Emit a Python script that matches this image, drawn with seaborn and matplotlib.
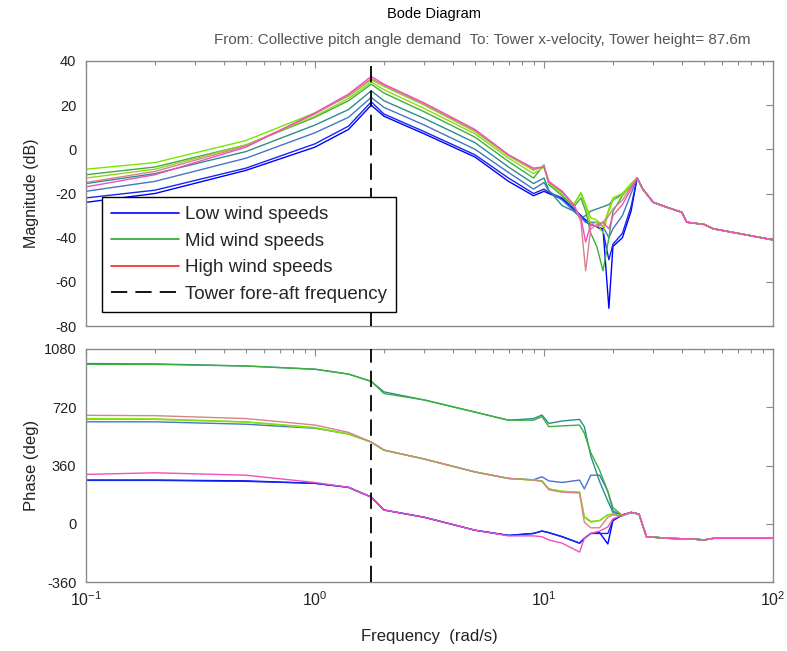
import numpy as np
import pandas as pd
import matplotlib
matplotlib.use("Agg")
import matplotlib.pyplot as plt
from matplotlib.lines import Line2D
from matplotlib.ticker import FixedLocator, FuncFormatter, LogLocator, NullFormatter
import seaborn as sns

# ---------------------------------------------------------------------------
# Frequency response of the linearised turbine at several operating points
# (collective pitch demand -> tower-top fore-aft velocity)
# ---------------------------------------------------------------------------
tower_freq = 1.76  # rad/s, tower first fore-aft mode

series_names = ["low_1", "low_2", "low_3", "mid_1", "mid_2",
                "mid_3", "mid_4", "high_1", "high_2"]

# magnitude (dB) knots, rad/s
mag_freq = [0.1, 0.2, 0.5, 1.0, 1.4, 1.76, 2.0, 3.0, 5.0, 7.0, 9.0, 10.0,
            10.5, 12.0, 13.5, 14.5, 15.2, 16.0, 17.0, 18.1, 19.2, 20.0,
            22.0, 24.0]
mag_low_1 = [-24, -20, -9.5, 1, 9, 20, 15, 7, -3.5, -14.5, -21, -19, -20,
             -22.5, -27, -30, -32, -34, -35, -36, -72, -44, -40, -28]
mag_low_2 = [-22, -18.5, -8.5, 2.5, 10.5, 21.5, 16, 8, -2.5, -13, -20, -18,
             -19.5, -22, -27, -30, -33, -34, -35, -37, -50, -43, -38, -26]
mag_low_3 = [-19, -14.5, -4, 7.5, 14.5, 23.5, 19, 11, 0, -10.5, -18, -15,
             -19, -23, -28, -31, -33, -33, -33, -35, -40, -36, -30, -20]
mag_mid_1 = [-15.5, -11, -1, 11, 18, 26.5, 22, 14, 3, -8, -15.5, -13,
             -18.5, -25.5, -28, -31, -30, -28, -27, -26, -25, -23, -20, -17]
mag_mid_2 = [-11.5, -8, 2, 14.5, 22, 29.5, 25.5, 17, 5.5, -5.5, -13, -7,
             -16, -21, -26, -22, -28, -38, -44, -55, -40, -28, -21, -16]
mag_mid_3 = [-13, -9, 2, 15, 23, 30.5, 27, 18.5, 7, -4, -11, -8, -15.5,
             -20, -25, -20, -26, -34, -33, -38, -28, -23, -21, -16]
mag_mid_4 = [-9, -6, 4, 16.5, 24, 31.5, 28.5, 20, 8, -3, -9.5, -7.5, -15,
             -19.5, -25, -19.5, -25, -31, -32, -35, -27, -22, -20, -15.5]
mag_high_1 = [-15, -10, 1.5, 16, 24.5, 32, 29, 20.5, 8.5, -2.5, -9, -8,
              -15, -19, -25, -33, -55, -36, -34, -33, -30, -27, -23, -17]
mag_high_2 = [-17, -11.5, 1, 16.5, 25, 33, 29.5, 21, 9, -2.5, -8.5, -8,
              -14.5, -19, -25.5, -31, -42, -34, -35, -33, -36, -30, -25, -18]
# high-frequency roll-off shared by all operating points
mag_tail_freq = [25.5, 27.0, 30.0, 35.0, 40.0, 42.0, 50.0, 55.0, 70.0, 100.0]
mag_tail = [-13, -18, -24, -26.5, -28.5, -33, -34, -36, -38, -41]

# phase (deg) knots, rad/s
ph_freq = [0.1, 0.2, 0.5, 1.0, 1.4, 1.76, 2.0, 3.0, 5.0, 7.0, 9.0, 9.8,
           10.5, 12.0, 14.3, 15.0, 16.0, 17.5, 19.0, 20.0, 22.0]
ph_low_1 = [270, 270, 265, 250, 225, 165, 85, 40, -40, -72, -60, -45, -55,
            -80, -120, -90, -60, -55, -125, 20, 55]
ph_low_2 = [268, 268, 262, 250, 225, 165, 85, 40, -40, -72, -60, -45, -55,
            -80, -120, -90, -60, -60, -60, 20, 55]
ph_low_3 = [630, 630, 615, 590, 555, 505, 455, 400, 320, 280, 272, 290,
            265, 255, 270, 215, 300, 300, 200, 80, 50]
ph_mid_1 = [990, 988, 975, 955, 925, 880, 815, 765, 690, 640, 650, 672,
            620, 635, 645, 600, 420, 260, 140, 70, 50]
ph_mid_2 = [985, 985, 975, 955, 925, 880, 805, 765, 690, 640, 640, 662,
            600, 605, 610, 560, 440, 330, 200, 100, 50]
ph_mid_3 = [645, 645, 628, 592, 555, 505, 455, 400, 320, 280, 270, 265,
            215, 200, 195, 45, 15, 20, 55, 60, 50]
ph_mid_4 = [650, 648, 630, 595, 555, 505, 455, 400, 320, 280, 270, 265,
            215, 200, 195, 40, 10, 20, 55, 60, 50]
ph_high_1 = [670, 668, 650, 610, 565, 505, 455, 400, 320, 280, 270, 262,
             210, 195, 190, 10, -25, -25, 40, 55, 50]
ph_high_2 = [305, 315, 300, 255, 225, 165, 85, 40, -40, -75, -75, -80,
             -100, -120, -175, -90, -60, -45, -20, 30, 55]
ph_tail_freq = [24.0, 26.0, 28.0, 35.0, 45.0, 50.0, 55.0, 100.0]
ph_tail = [70, 60, -80, -90, -95, -100, -90, -90]

mag_series = [mag_low_1, mag_low_2, mag_low_3, mag_mid_1, mag_mid_2,
              mag_mid_3, mag_mid_4, mag_high_1, mag_high_2]
ph_series = [ph_low_1, ph_low_2, ph_low_3, ph_mid_1, ph_mid_2,
             ph_mid_3, ph_mid_4, ph_high_1, ph_high_2]

legend_labels = ["Low wind speeds", "Mid wind speeds", "High wind speeds",
                 "Tower fore-aft frequency"]

# line colours, blue (low wind) through green to red/pink (high wind)
series_colors = ["#0000ff", "#1428eb", "#4674c8", "#2e8c8c", "#3caf3c",
                 "#96d228", "#78e600", "#d7828c", "#f050be"]
legend_colors = ["#0000ff", "#22aa22", "#ff2020"]

# ---------------------------------------------------------------------------
rows_mag, rows_ph = [], []
for name, m, p in zip(series_names, mag_series, ph_series):
    for f, v in zip(mag_freq + mag_tail_freq, m + mag_tail):
        rows_mag.append((name, f, v))
    for f, v in zip(ph_freq + ph_tail_freq, p + ph_tail):
        rows_ph.append((name, f, v))
df_mag = pd.DataFrame(rows_mag, columns=["curve", "freq", "mag"])
df_ph = pd.DataFrame(rows_ph, columns=["curve", "freq", "phase"])

sns.set_theme(style="white")
plt.rcParams["font.family"] = ["Liberation Sans", "DejaVu Sans"]
plt.rcParams["mathtext.fontset"] = "custom"
plt.rcParams["mathtext.rm"] = "Liberation Sans"
plt.rcParams["mathtext.default"] = "regular"
plt.rcParams["axes.unicode_minus"] = False

W, H = 787, 651
fig = plt.figure(figsize=(W / 100, H / 100), dpi=100)
fig.patch.set_facecolor("white")
ax_mag = fig.add_axes([86 / W, 1 - 326 / H, 687 / W, 265 / H])
ax_ph = fig.add_axes([86 / W, 1 - 582 / H, 687 / W, 233 / H])

palette = dict(zip(series_names, series_colors))
for ax in (ax_mag, ax_ph):
    ax.set_xscale("log")

sns.lineplot(data=df_mag, x="freq", y="mag", hue="curve", palette=palette,
             hue_order=series_names, estimator=None, sort=False,
             linewidth=1.0, legend=False, ax=ax_mag)
sns.lineplot(data=df_ph, x="freq", y="phase", hue="curve", palette=palette,
             hue_order=series_names, estimator=None, sort=False,
             linewidth=1.0, legend=False, ax=ax_ph)

frame_col = "#8a8a8a"
for ax in (ax_mag, ax_ph):
    ax.axvline(tower_freq, color="black", linewidth=1.3, dashes=(9, 4.5),
               zorder=5)
    ax.set_xlim(0.1, 100)
    ax.xaxis.set_major_locator(FixedLocator([0.1, 1, 10, 100]))
    ax.xaxis.set_minor_locator(LogLocator(base=10, subs=np.arange(2, 10),
                                          numticks=20))
    ax.xaxis.set_minor_formatter(NullFormatter())
    ax.tick_params(which="both", direction="in", top=True, right=True,
                   color=frame_col, labelcolor="#222222", labelsize=10.5)
    ax.tick_params(axis="y", pad=7)
    ax.tick_params(which="major", length=5, width=0.8)
    ax.tick_params(which="minor", length=3, width=0.8)
    for s in ax.spines.values():
        s.set_color(frame_col)
        s.set_linewidth(1.0)
    ax.set_facecolor("white")
    ax.set_xlabel("")
    ax.yaxis.set_label_coords(-0.068, 0.5)

ax_mag.set_ylim(-80, 40)
ax_mag.set_yticks([-80, -60, -40, -20, 0, 20, 40])
ax_mag.tick_params(axis="x", labelbottom=False)
ax_mag.set_ylabel("Magnitude (dB)", fontsize=11.5, color="#222222")

ax_ph.set_ylim(-360, 1080)
ax_ph.set_yticks([-360, 0, 360, 720, 1080])
ax_ph.set_ylabel("Phase (deg)", fontsize=12, color="#222222")
ax_ph.xaxis.set_major_formatter(
    FuncFormatter(lambda v, _: r"$10^{%d}$" % int(round(np.log10(v)))))
ax_ph.tick_params(axis="x", labelsize=11.5, pad=6)
ax_ph.set_xlabel("Frequency  (rad/s)", fontsize=12, color="#222222")
ax_ph.xaxis.set_label_coords(0.5, -0.2)

handles = [Line2D([], [], color=c, linewidth=1.2) for c in legend_colors]
handles.append(Line2D([], [], color="black", linewidth=1.3, dashes=(9, 4.5)))
leg = ax_mag.legend(handles, legend_labels, loc="lower left",
                    bbox_to_anchor=(0.0233, 0.053), borderaxespad=0,
                    fontsize=13.5, handlelength=3.6, handletextpad=0.3,
                    labelspacing=0.5, borderpad=0.5, fancybox=False,
                    framealpha=1.0, edgecolor="black")
leg.get_frame().set_linewidth(1.0)
leg.set_zorder(10)

fig.text(434 / W, 1 - 14 / H, "Bode Diagram", ha="center",
         va="center", fontsize=10.5, color="black")
fig.text(482 / W, 1 - 40 / H,
         "From: Collective pitch angle demand  To: Tower x-velocity, "
         "Tower height= 87.6m", ha="center", va="center", fontsize=11,
         color="#555555")

fig.savefig("out.png", dpi=100, facecolor="white")
